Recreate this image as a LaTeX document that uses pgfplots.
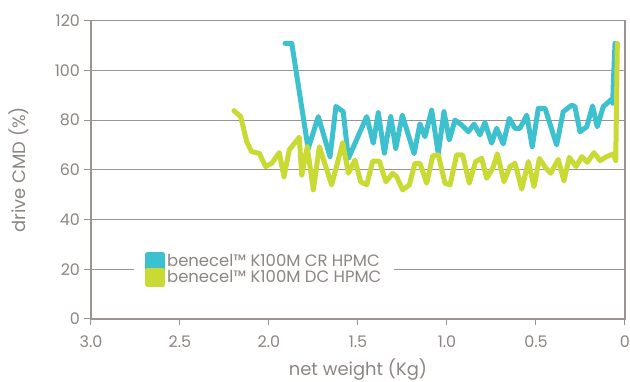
\documentclass[border=0pt]{standalone}
\usepackage{pgfplots}
\pgfplotsset{compat=1.18}
\usepackage{fontspec}
\setmainfont{Poppins}
\definecolor{txtgray}{HTML}{8C8582}
\definecolor{axgray}{HTML}{9A9390}
\definecolor{cyanline}{HTML}{3DC1CF}
\definecolor{limeline}{HTML}{C9DA34}
\begin{document}
\begin{tikzpicture}
\useasboundingbox (-91bp,-63.1bp) rectangle (539bp,318.9bp);
\begin{axis}[
  scale only axis,
  width=534bp, height=298.2bp,
  at={(0,0)}, anchor=south west,
  x dir=reverse,
  xmin=0, xmax=3, ymin=0, ymax=120,
  xtick={0,0.5,1,1.5,2,2.5,3},
  xticklabels={0,0.5,1.0,1.5,2.0,2.5,3.0},
  ytick={0,20,40,60,80,100,120},
  /pgf/number format/assume math mode=true,
  tick align=outside,
  major tick length=6.5bp,
  xtick pos=bottom, ytick pos=left,
  tick style={axgray, line width=1bp},
  ymajorgrids,
  grid style={axgray, line width=1bp},
  axis line style={axgray, line width=1.3bp},
  font=\fontsize{16}{19}\selectfont,
  ticklabel style={txtgray},
  xticklabel style={yshift=-7bp},
  yticklabel style={xshift=-1bp},
  xlabel={net weight (Kg)},
  ylabel={drive CMD (\%)},
  label style={txtgray, font=\fontsize{18}{21}\selectfont},
  xlabel style={at={(axis description cs:0.5,-0.17)}, anchor=center},
  ylabel style={at={(axis description cs:-0.135,0.5)}, anchor=center},
  legend cell align=left,
  legend style={at={(axis description cs:0.0805,0.166)}, anchor=west,
    draw=none, fill=white, inner xsep=11bp, inner ysep=2bp,
    text=txtgray, font=\fontsize{16.5}{19}\selectfont, row sep=-3.5bp},
  legend image code/.code={\fill (0bp,-7bp) rectangle (15bp,7bp);},
]
\addplot[color=cyanline, line width=5bp, line join=round, line cap=round] coordinates {
(1.910,110.9) (1.872,110.9) (1.780,68.5) (1.723,81.4) (1.657,65.3) (1.624,85.5)
(1.583,83.4) (1.554,64.6) (1.451,81.4) (1.414,70.7) (1.386,83.0) (1.352,66.7)
(1.316,81.4) (1.288,68.6) (1.251,82.0) (1.185,66.5) (1.152,78.5) (1.124,73.3)
(1.086,84.0) (1.049,66.6) (1.017,83.4) (0.987,72.0) (0.955,80.0) (0.917,78.0)
(0.880,75.3) (0.848,78.4) (0.815,74.0) (0.787,79.0) (0.749,70.7) (0.721,76.7)
(0.684,70.4) (0.650,80.7) (0.618,76.7) (0.590,76.7) (0.552,82.0) (0.521,69.3)
(0.487,84.7) (0.449,84.7) (0.384,70.0) (0.347,83.4) (0.299,86.0) (0.281,85.4)
(0.253,75.3) (0.215,77.3) (0.182,85.7) (0.156,77.3) (0.122,85.4) (0.075,88.4)
(0.069,86.8) (0.066,94.0) (0.056,110.9)
};
\addlegendentry{benecel™ K100M CR HPMC}
\addplot[color=limeline, line width=5bp, line join=round, line cap=round] coordinates {
(2.197,83.8) (2.159,81.4) (2.125,71.3) (2.097,67.3) (2.054,66.6) (2.019,61.3)
(1.985,62.6) (1.942,66.9) (1.916,57.2) (1.886,68.0) (1.830,73.1) (1.816,57.9)
(1.785,69.3) (1.751,51.9) (1.717,69.3) (1.648,53.9) (1.586,70.9) (1.554,58.6)
(1.517,63.9) (1.485,55.2) (1.451,53.9) (1.417,63.5) (1.380,63.5) (1.343,55.2)
(1.305,58.6) (1.283,57.2) (1.249,51.9) (1.212,53.9) (1.180,62.6) (1.152,62.6)
(1.114,54.6) (1.080,65.6) (1.049,66.0) (1.011,54.6) (0.983,53.9) (0.946,66.0)
(0.912,66.0) (0.875,54.6) (0.839,63.3) (0.805,64.6) (0.777,56.6) (0.743,60.6)
(0.717,66.4) (0.680,55.2) (0.646,61.3) (0.618,62.6) (0.580,52.2) (0.543,63.3)
(0.511,53.2) (0.481,64.6) (0.444,60.6) (0.417,58.6) (0.375,64.2) (0.343,55.5)
(0.313,65.0) (0.275,61.3) (0.243,65.3) (0.212,63.0) (0.174,66.9) (0.140,63.7)
(0.103,65.3) (0.066,66.4) (0.052,63.7) (0.043,110.9)
};
\addlegendentry{benecel™ K100M DC HPMC}
\end{axis}
\end{tikzpicture}
\end{document}
